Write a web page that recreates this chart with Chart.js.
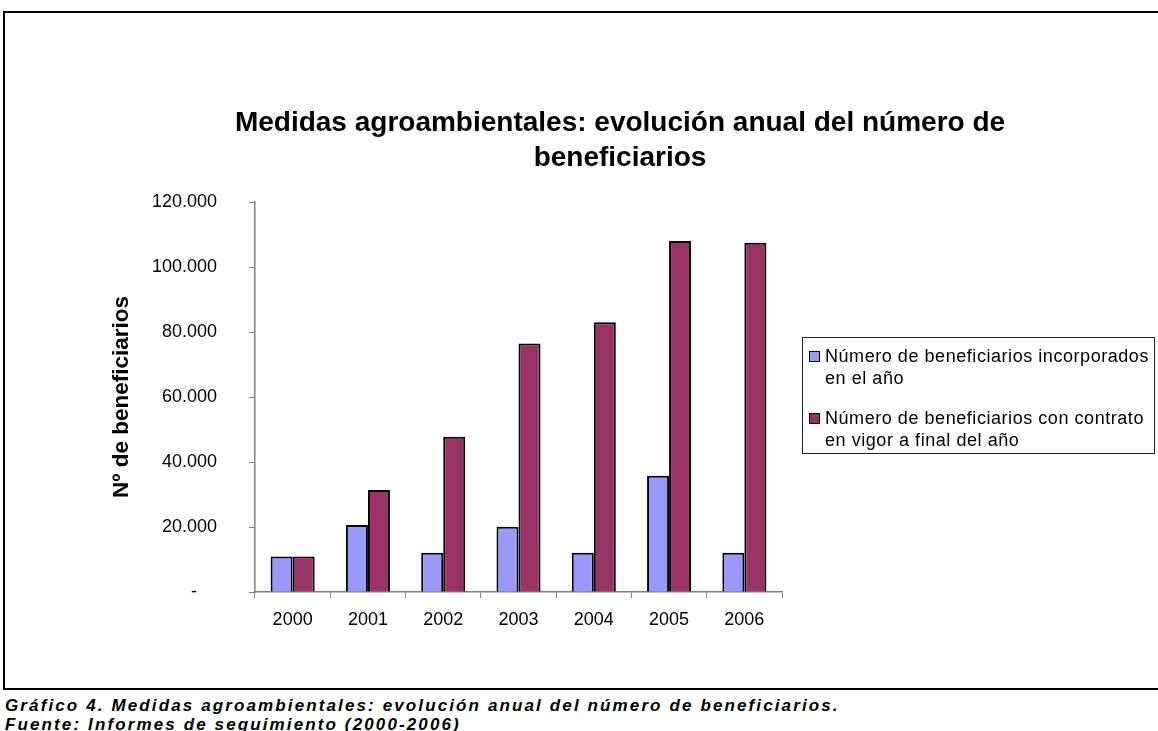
<!DOCTYPE html>
<html>
<head>
<meta charset="utf-8">
<script src="https://cdn.jsdelivr.net/npm/chart.js@4"></script>
<style>
  body { margin: 0; background: #fff; font-family: "Liberation Sans", Arial, sans-serif; }
  #wrap { position: relative; width: 1158px; height: 731px; overflow: hidden; }
  #chart { position: absolute; left: 0; top: 0; }
  .frame-top { position: absolute; left: 3px; top: 11px; width: 1160px; height: 2px; background: #000; }
  .frame-left { position: absolute; left: 3px; top: 11px; width: 2px; height: 679px; background: #000; }
  .frame-bottom { position: absolute; left: 3px; top: 688px; width: 1160px; height: 2px; background: #000; }
  #caption { position: absolute; left: 5px; top: 696px; font-size: 17px; font-weight: bold; font-style: italic;
             letter-spacing: 2.12px; line-height: 19px; color: #000; white-space: nowrap; }
  #legend { position: absolute; left: 802px; top: 337px; width: 351px; height: 115px; border: 1px solid #222;
            font-size: 18px; letter-spacing: 0.55px; line-height: 22px; color: #000; }
  .item { position: absolute; left: 22px; white-space: nowrap; }
  .sw { position: absolute; left: -16px; top: 6px; width: 9px; height: 9px; border: 1px solid #000; }
</style>
</head>
<body>
<div id="wrap">
  <canvas id="chart" width="1158" height="690"></canvas>
  <div class="frame-top"></div>
  <div class="frame-left"></div>
  <div class="frame-bottom"></div>
  <div id="legend"></div>
  <div id="caption">Gráfico 4. Medidas agroambientales: evolución anual del número de beneficiarios.<br>Fuente: Informes de seguimiento (2000-2006)</div>
</div>
<script>
const years = ["2000", "2001", "2002", "2003", "2004", "2005", "2006"];
const incorporados = [10900, 20600, 12100, 20100, 12100, 35800, 12100];
const enVigor = [10900, 31400, 47800, 76500, 83000, 108000, 107500];
const seriesNames = [
  ["Número de beneficiarios incorporados", "en el año"],
  ["Número de beneficiarios con contrato", "en vigor a final del año"]
];
const colors = ["#9999FF", "#993366"];
const yTicks = [0, 20000, 40000, 60000, 80000, 100000, 120000];

function fmt(v) {
  if (v === 0) return "-    ";
  return (v / 1000) + ".000";
}

// legend drawn as html, to the right of the plot
const legend = document.getElementById("legend");
const tops = [7, 69];
seriesNames.forEach((lines, i) => {
  const d = document.createElement("div");
  d.className = "item";
  d.style.top = tops[i] + "px";
  d.innerHTML = '<span class="sw" style="background:' + colors[i] + '"></span>' + lines.join("<br>");
  legend.appendChild(d);
});

const axisGray = "#808080";

new Chart(document.getElementById("chart"), {
  type: "bar",
  data: {
    labels: years,
    datasets: [
      { label: seriesNames[0].join(" "), data: incorporados, backgroundColor: colors[0],
        borderColor: "#000", borderWidth: 2 },
      { label: seriesNames[1].join(" "), data: enVigor, backgroundColor: colors[1],
        borderColor: "#000", borderWidth: 2 }
    ]
  },
  options: {
    responsive: false,
    animation: false,
    layout: { padding: { left: 82, right: 0, top: 0, bottom: 0 } },
    datasets: { bar: { barPercentage: 1, categoryPercentage: 0.585 } },
    plugins: {
      legend: { display: false },
      tooltip: { enabled: false },
      title: {
        display: true,
        text: ["Medidas agroambientales: evolución anual del número de", "beneficiarios"],
        color: "#000",
        font: { family: "Liberation Sans", size: 28, weight: "bold", lineHeight: 35 / 28 },
        padding: { top: 106, bottom: 26 }
      }
    },
    scales: {
      x: {
        grid: { display: true, drawOnChartArea: false, drawTicks: true, tickLength: 6, color: axisGray },
        border: { color: axisGray, width: 1.5 },
        ticks: { color: "#000", padding: 11, font: { family: "Liberation Sans", size: 18 } },
        afterFit: s => { s.height = 98; }
      },
      y: {
        min: 0, max: 120000,
        afterBuildTicks: s => { s.ticks = yTicks.map(v => ({ value: v })); },
        grid: { display: true, drawOnChartArea: false, drawTicks: true, tickLength: 6, color: axisGray },
        border: { color: axisGray, width: 1.5 },
        ticks: { color: "#000", padding: 32, callback: v => fmt(v), font: { family: "Liberation Sans", size: 18 } },
        title: { display: true, text: "Nº de beneficiarios", color: "#000", padding: { top: 26 },
                 font: { family: "Liberation Sans", size: 22.5, weight: "bold" } },
        afterFit: s => { s.width = 173; }
      },
      spacer: {
        type: "linear", position: "right", display: true,
        grid: { display: false }, border: { display: false }, ticks: { display: false },
        afterFit: s => { s.width = 376; }
      }
    }
  }
});
</script>
</body>
</html>
